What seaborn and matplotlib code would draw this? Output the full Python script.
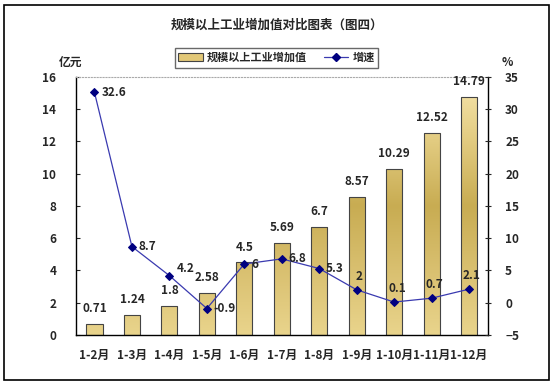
import numpy as np
import pandas as pd
import matplotlib
matplotlib.use('Agg')
import matplotlib.pyplot as plt
from matplotlib.colors import LinearSegmentedColormap
from matplotlib.patches import Rectangle
from matplotlib.lines import Line2D
import seaborn as sns

months = ['1-2月', '1-3月', '1-4月', '1-5月', '1-6月', '1-7月', '1-8月', '1-9月', '1-10月', '1-11月', '1-12月']
added_value = [0.71, 1.24, 1.8, 2.58, 4.5, 5.69, 6.7, 8.57, 10.29, 12.52, 14.79]
growth = [32.6, 8.7, 4.2, -0.9, 6, 6.8, 5.3, 2, 0.1, 0.7, 2.1]
bar_labels = ['0.71', '1.24', '1.8', '2.58', '4.5', '5.69', '6.7', '8.57', '10.29', '12.52', '14.79']
growth_labels = ['32.6', '8.7', '4.2', '-0.9', '6', '6.8', '5.3', '2', '0.1', '0.7', '2.1']

sns.set_style('white')
plt.rcParams['font.family'] = ['Noto Sans CJK SC', 'DejaVu Sans']
plt.rcParams['font.weight'] = 'bold'

df = pd.DataFrame({'month': months, 'value': added_value})

fig = plt.figure(figsize=(5.53, 3.85), dpi=100)
ax1 = fig.add_axes([0.137, 0.13, 0.745, 0.67])

sns.barplot(data=df, x='month', y='value', ax=ax1, width=0.43,
            color='#e8cf84', edgecolor='#444444', linewidth=0.8)

# gradient fill for bars (light top, darker olive middle, light bottom)
cmap = LinearSegmentedColormap.from_list('gold', ['#e9d48c', '#d9c070', '#c8ac52', '#e2cb80', '#f7e6ae'])
grad = np.linspace(0, 1, 256).reshape(-1, 1)
for p in ax1.patches:
    p.set_facecolor('none')
    p.set_zorder(2)
    im = ax1.imshow(grad, cmap=cmap, aspect='auto', origin='lower',
                    extent=[-0.5, 10.5, 0, 16], zorder=1.5)
    im.set_clip_path(p)
ax1.set_xlim(-0.5, 10.5)
ax1.set_ylim(0, 16)

for i, v in enumerate(added_value):
    ax1.text(i, v + 0.55, bar_labels[i], ha='center', va='bottom', fontsize=8.5, fontweight='bold')

ax1.set_xlabel('')
ax1.set_ylabel('')
ax1.set_yticks(range(0, 17, 2))
ax1.tick_params(axis='y', direction='in', length=3, labelsize=8.5, pad=14)
ax1.set_xticks(np.arange(-0.5, 11, 1), minor=True)
ax1.tick_params(axis='x', which='major', length=0, labelsize=8.5, pad=10)
ax1.tick_params(axis='x', which='minor', direction='in', length=3)
for lab in ax1.get_xticklabels() + ax1.get_yticklabels():
    lab.set_fontweight('bold')
for s in ['left', 'bottom', 'right']:
    ax1.spines[s].set_color('black')
    ax1.spines[s].set_linewidth(1)
ax1.spines['top'].set_color('#aaaaaa')
ax1.spines['top'].set_linestyle(':')

ax2 = ax1.twinx()
sns.lineplot(x=list(range(len(months))), y=growth, ax=ax2, color='#3a3ab0', linewidth=0.9,
             marker='D', markersize=4, markerfacecolor='#000080', markeredgecolor='#000080')
ax2.set_ylim(-5, 35)
ax2.set_yticks(range(-5, 36, 5))
ax2.tick_params(axis='y', direction='inout', length=5, labelsize=8.5, pad=10)
for lab in ax2.get_yticklabels():
    lab.set_fontweight('bold')
for s in ax2.spines.values():
    s.set_visible(False)

for i, g in enumerate(growth):
    if i < 7:
        ax2.annotate(growth_labels[i], (i, g), xytext=(5, 0 if i != 2 else 5), textcoords='offset points',
                     ha='left', va='center', fontsize=8.5, fontweight='bold')
    else:
        ax2.annotate(growth_labels[i], (i, g), xytext=(2, 5), textcoords='offset points',
                     ha='center', va='bottom', fontsize=8.5, fontweight='bold')

fig.text(0.127, 0.838, '亿元', ha='center', va='center', fontsize=8.5, fontweight='bold')
fig.text(0.918, 0.838, '%', ha='center', va='center', fontsize=8.5, fontweight='bold')

fig.text(0.5, 0.935, '规模以上工业增加值对比图表（图四）', ha='center', va='center', fontsize=9, fontweight='bold')

handles = [Rectangle((0, 0), 1, 1, facecolor='#e2c878', edgecolor='#444444', linewidth=0.8),
           Line2D([], [], color='#3a3ab0', linewidth=0.9, marker='D', markersize=4,
                  markerfacecolor='#000080', markeredgecolor='#000080')]
leg = fig.legend(handles, ['规模以上工业增加值', '增速'], loc='center', bbox_to_anchor=(0.5, 0.85),
                 ncol=2, fontsize=8, frameon=True, fancybox=False, edgecolor='#444444',
                 handlelength=2.2, columnspacing=1.5, borderpad=0.3, handletextpad=0.4)
leg.get_frame().set_linewidth(1)
for t in leg.get_texts():
    t.set_fontweight('bold')

fig.patches.append(Rectangle((4 / 553, 5 / 385), 545 / 553, 375 / 385, transform=fig.transFigure,
                             fill=False, edgecolor='black', linewidth=1.2))

fig.savefig('out.png', dpi=100)
